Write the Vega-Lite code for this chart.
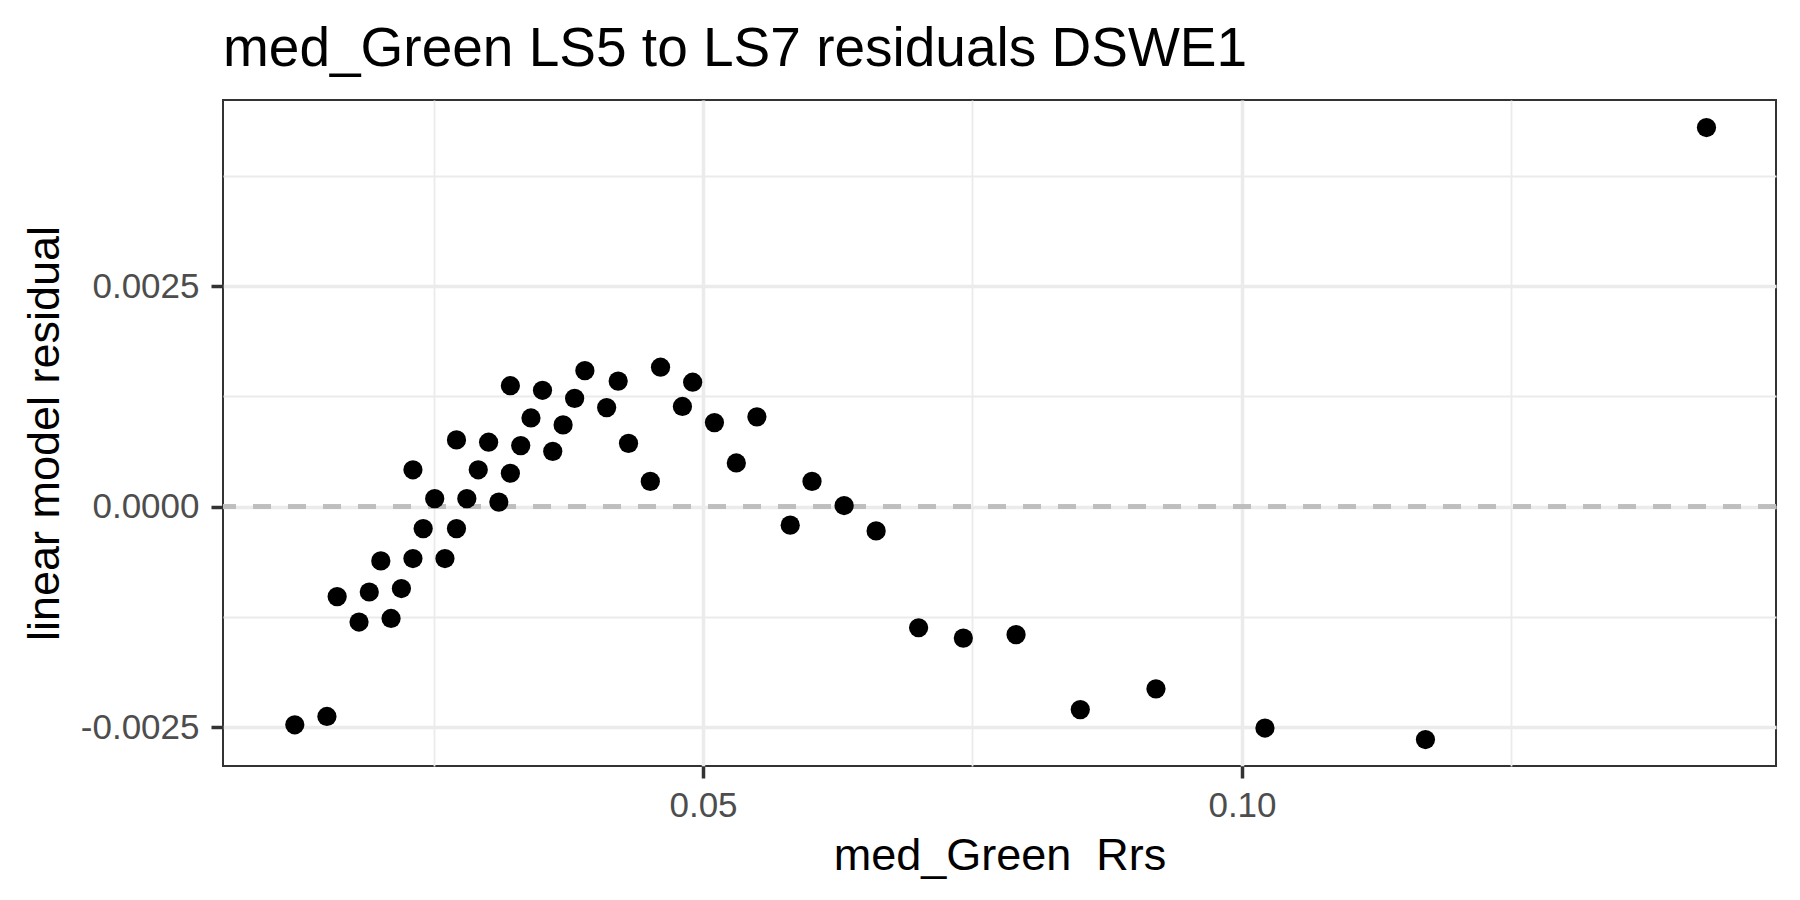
{
  "$schema": "https://vega.github.io/schema/vega-lite/v6.json",
  "width": 1553,
  "height": 666,
  "autosize": {"type": "none"},
  "padding": {"left": 223, "top": 100, "right": 24, "bottom": 134},
  "background": "white",
  "config": {
    "font": "Liberation Sans",
    "view": {"stroke": "#333333", "strokeWidth": 2}
  },
  "title": {
    "text": "med_Green LS5 to LS7 residuals DSWE1",
    "anchor": "start",
    "frame": "group",
    "font": "Liberation Sans",
    "fontSize": 55,
    "fontWeight": "normal",
    "color": "#000000",
    "baseline": "alphabetic",
    "offset": 24,
    "dy": 45
  },
  "data": {
    "values": [
      {"rrs": 0.01213, "resid": -0.00247},
      {"rrs": 0.01511, "resid": -0.002376},
      {"rrs": 0.01606, "resid": -0.001018},
      {"rrs": 0.01809, "resid": -0.001306},
      {"rrs": 0.01904, "resid": -0.000966},
      {"rrs": 0.02011, "resid": -0.000614},
      {"rrs": 0.02106, "resid": -0.001266},
      {"rrs": 0.02202, "resid": -0.000927},
      {"rrs": 0.02309, "resid": 0.000418},
      {"rrs": 0.02309, "resid": -0.000587},
      {"rrs": 0.02404, "resid": -0.000248},
      {"rrs": 0.02511, "resid": 0.0000914},
      {"rrs": 0.02606, "resid": -0.000587},
      {"rrs": 0.02713, "resid": 0.000757},
      {"rrs": 0.02713, "resid": -0.000248},
      {"rrs": 0.02809, "resid": 0.0000914},
      {"rrs": 0.02915, "resid": 0.000418},
      {"rrs": 0.03011, "resid": 0.000731},
      {"rrs": 0.03106, "resid": 0.0000522},
      {"rrs": 0.03213, "resid": 0.001371},
      {"rrs": 0.03213, "resid": 0.000379},
      {"rrs": 0.03309, "resid": 0.000692},
      {"rrs": 0.03404, "resid": 0.001005},
      {"rrs": 0.03511, "resid": 0.001319},
      {"rrs": 0.03606, "resid": 0.000627},
      {"rrs": 0.03702, "resid": 0.000927},
      {"rrs": 0.03809, "resid": 0.001227},
      {"rrs": 0.03904, "resid": 0.001541},
      {"rrs": 0.04106, "resid": 0.001123},
      {"rrs": 0.04213, "resid": 0.001423},
      {"rrs": 0.04309, "resid": 0.000718},
      {"rrs": 0.04511, "resid": 0.000287},
      {"rrs": 0.04606, "resid": 0.00158},
      {"rrs": 0.04809, "resid": 0.001136},
      {"rrs": 0.04904, "resid": 0.00141},
      {"rrs": 0.05106, "resid": 0.000953},
      {"rrs": 0.05309, "resid": 0.000496},
      {"rrs": 0.055, "resid": 0.001018},
      {"rrs": 0.05809, "resid": -0.000209},
      {"rrs": 0.06011, "resid": 0.000287},
      {"rrs": 0.06309, "resid": 0.0000131},
      {"rrs": 0.06606, "resid": -0.000274},
      {"rrs": 0.07, "resid": -0.001371},
      {"rrs": 0.07415, "resid": -0.001488},
      {"rrs": 0.07904, "resid": -0.001449},
      {"rrs": 0.085, "resid": -0.002298},
      {"rrs": 0.09202, "resid": -0.002063},
      {"rrs": 0.10213, "resid": -0.002507},
      {"rrs": 0.11702, "resid": -0.002637},
      {"rrs": 0.14309, "resid": 0.004295}
    ]
  },
  "layer": [
    {
      "mark": {"type": "rule", "color": "#BEBEBE", "strokeWidth": 4, "strokeDash": [18, 17]},
      "encoding": {
        "y": {"datum": 0, "type": "quantitative"}
      }
    },
    {
      "mark": {"type": "circle", "color": "#000000", "opacity": 1, "size": 370},
      "encoding": {
        "x": {
          "field": "rrs",
          "type": "quantitative",
          "scale": {"domain": [0.00547, 0.14954], "nice": false, "zero": false},
          "axis": {
            "values": [0.025, 0.05, 0.075, 0.1, 0.125],
            "title": "med_Green\u00a0\u00a0Rrs",
            "titleFont": "Liberation Sans",
            "titleFontSize": 45,
            "titleFontWeight": "normal",
            "titleColor": "#000000",
            "titleBaseline": "alphabetic",
            "titleAlign": "center",
            "titleX": 776.5,
            "titleY": 103,
            "labelExpr": "datum.value == 0.05 ? '0.05' : datum.value == 0.1 ? '0.10' : ''",
            "labelFont": "Liberation Sans",
            "labelFontSize": 35,
            "labelColor": "#4D4D4D",
            "labelPadding": 10,
            "labelBaseline": "top",
            "labelFlush": false,
            "labelOverlap": false,
            "domain": false,
            "ticks": true,
            "tickSize": 12,
            "tickColor": "#333333",
            "tickWidth": 3.5,
            "tickOpacity": {"condition": {"test": "datum.value == 0.05 || datum.value == 0.1", "value": 1}, "value": 0},
            "grid": true,
            "gridColor": "#EBEBEB",
            "gridWidth": {"condition": {"test": "datum.value == 0.05 || datum.value == 0.1", "value": 3.5}, "value": 1.8}
          }
        },
        "y": {
          "field": "resid",
          "type": "quantitative",
          "scale": {"domain": [-0.002937, 0.004607], "nice": false, "zero": false},
          "axis": {
            "values": [-0.0025, -0.00125, 0, 0.00125, 0.0025, 0.00375],
            "title": "linear model residual",
            "titleFont": "Liberation Sans",
            "titleFontSize": 45,
            "titleFontWeight": "normal",
            "titleColor": "#000000",
            "titleAngle": 270,
            "titleBaseline": "alphabetic",
            "titleAlign": "center",
            "titleX": -165,
            "titleY": 333,
            "labelExpr": "datum.value == -0.0025 ? '-0.0025' : datum.value == 0 ? '0.0000' : datum.value == 0.0025 ? '0.0025' : ''",
            "labelFont": "Liberation Sans",
            "labelFontSize": 35,
            "labelColor": "#4D4D4D",
            "labelPadding": 12,
            "labelBaseline": "middle",
            "labelFlush": false,
            "labelOverlap": false,
            "domain": false,
            "ticks": true,
            "tickSize": 12,
            "tickColor": "#333333",
            "tickWidth": 3.5,
            "tickOpacity": {"condition": {"test": "datum.value == -0.0025 || datum.value == 0 || datum.value == 0.0025", "value": 1}, "value": 0},
            "grid": true,
            "gridColor": "#EBEBEB",
            "gridWidth": {"condition": {"test": "datum.value == -0.0025 || datum.value == 0 || datum.value == 0.0025", "value": 3.5}, "value": 1.8}
          }
        }
      }
    }
  ]
}
